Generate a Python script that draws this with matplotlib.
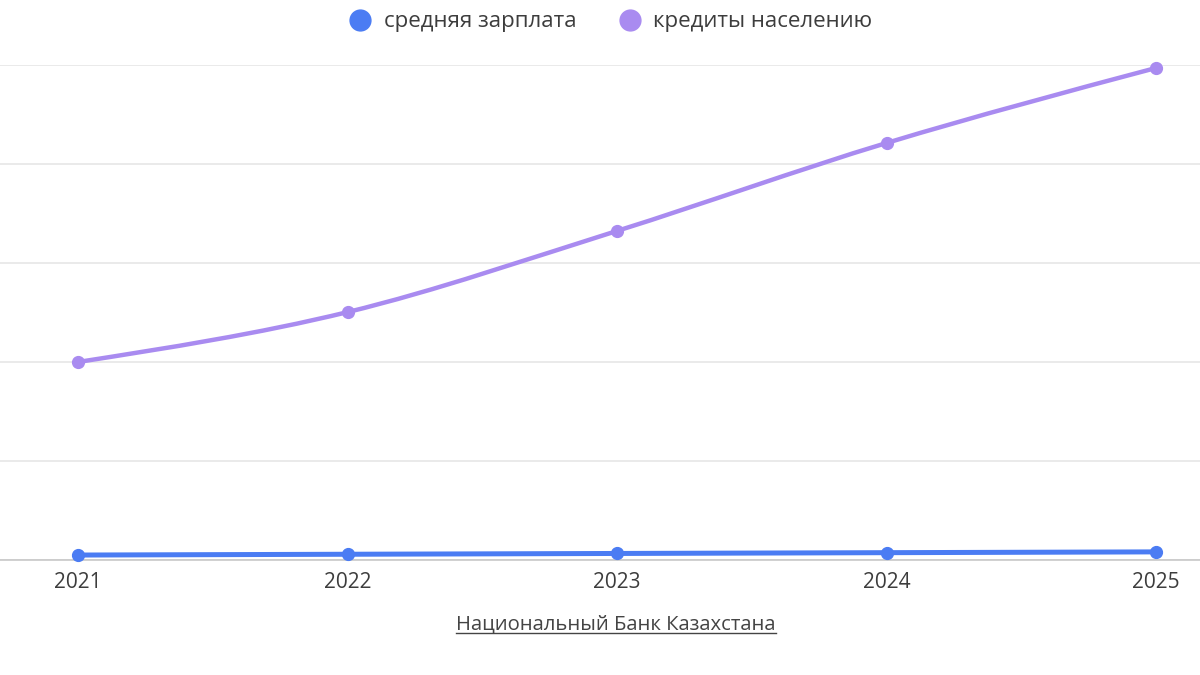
import matplotlib
matplotlib.use("Agg")
import matplotlib.pyplot as plt
from matplotlib.path import Path
from matplotlib.patches import PathPatch
from matplotlib.lines import Line2D
import numpy as np

plt.rcParams['font.family'] = ['Open Sans', 'DejaVu Sans']

# ---- data ----
years = [2021, 2022, 2023, 2024, 2025]
salary = [250, 290, 330, 370, 410]            # средняя зарплата
loans = [10000, 12520, 16620, 21060, 24850]   # кредиты населению
series_names = ["средняя зарплата", "кредиты населению"]
source_text = "Национальный Банк Казахстана"
y_grid = [0, 5000, 10000, 15000, 20000, 25000]

BLUE = "#4b7cf3"
PURPLE = "#a98bf0"


def smooth_path(x, y):
    x = np.asarray(x, float)
    y = np.asarray(y, float)
    n = len(x)
    h = np.diff(x)
    d = np.diff(y) / h
    m = np.zeros(n)
    for i in range(1, n - 1):
        m[i] = (y[i + 1] - y[i - 1]) / (x[i + 1] - x[i - 1])
    m[0] = (3 * d[0] - m[1]) / 2
    m[-1] = (3 * d[-1] - m[-2]) / 2
    verts = [(x[0], y[0])]
    codes = [Path.MOVETO]
    for i in range(n - 1):
        verts += [(x[i] + h[i] / 3, y[i] + m[i] * h[i] / 3),
                  (x[i + 1] - h[i] / 3, y[i + 1] - m[i + 1] * h[i] / 3),
                  (x[i + 1], y[i + 1])]
        codes += [Path.CURVE4] * 3
    return Path(verts, codes)


fig = plt.figure(figsize=(12, 6.75), dpi=100)
ax = fig.add_axes([0, 1 - 560 / 675, 1, (560 - 65) / 675])

for ys, col, lw in [(salary, BLUE, 3.6), (loans, PURPLE, 3.2)]:
    patch = PathPatch(smooth_path(years, ys), facecolor="none", edgecolor=col,
                      lw=lw, capstyle="round", joinstyle="round", zorder=3,
                      clip_on=False)
    ax.add_patch(patch)
    ax.plot(years, ys, linestyle="none", marker="o", ms=8.5, color=col,
            zorder=4, clip_on=False)

ax.set_xlim(2021 - 78 / 269.5, 2025 + 44 / 269.5)
ax.set_ylim(0, 25000)
ax.set_yticks(y_grid)
ax.set_yticklabels([])
ax.tick_params(axis="y", length=0)
ax.grid(axis="y", color="#e6e6e6", lw=1.2)
ax.set_axisbelow(True)
for s in ["top", "right", "left"]:
    ax.spines[s].set_visible(False)
ax.spines["bottom"].set_color("#c8c8c8")
ax.spines["bottom"].set_linewidth(1.2)

ax.set_xticks(years)
ax.set_xticklabels([str(y) for y in years])
ax.tick_params(axis="x", length=0, pad=9, labelsize=15, labelcolor="#3d3d3d")

handles = [Line2D([], [], linestyle="none", marker="o", ms=15, color=BLUE),
           Line2D([], [], linestyle="none", marker="o", ms=15, color=PURPLE)]
fig.legend(handles, series_names, loc="center", bbox_to_anchor=(0.509, 1 - 22 / 675),
           ncol=2, frameon=False, fontsize=16, labelcolor="#3d3d3d",
           handletextpad=0.55, columnspacing=1.9, handlelength=1.0)

t = fig.text(616 / 1200, 1 - 624 / 675, source_text, ha="center", va="center",
             fontsize=14.6, color="#444444")
fig.canvas.draw()
bb = t.get_window_extent(renderer=fig.canvas.get_renderer())
uy = bb.y0 + 1
fig.add_artist(Line2D([bb.x0 / 1200, bb.x1 / 1200], [uy / 675, uy / 675],
                      transform=fig.transFigure, color="#444444", lw=1.0))

fig.savefig("out.png", dpi=100, facecolor="white")
